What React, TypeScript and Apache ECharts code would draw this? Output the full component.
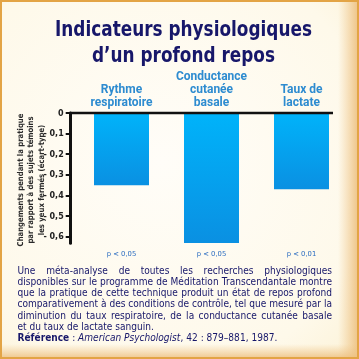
import React, { useEffect, useRef } from 'react';
import * as echarts from 'echarts';

const categories = ['Rythme\nrespiratoire', 'Conductance\ncutanée\nbasale', 'Taux de\nlactate'];
const values = [-0.35, -0.63, -0.37];
const pValues = ['p < 0,05', 'p < 0,05', 'p < 0,01'];
const yTicks = [0, -0.1, -0.2, -0.3, -0.4, -0.5, -0.6];
const titleLines = ['Indicateurs physiologiques', 'd’un profond repos'];
const yNameLines = [
  'Changements pendant la pratique',
  'par rapport à des sujets témoins',
  'les yeux fermés (écart-type)',
];
const paragraphLines = [
  'Une méta-analyse de toutes les recherches physiologiques',
  'disponibles sur le programme de Méditation Transcendantale montre',
  'que la pratique de cette technique produit un état de repos profond',
  'comparativement à des conditions de contrôle, tel que mesuré par la',
  'diminution du taux respiratoire, de la conductance cutanée  basale',
  'et du taux de lactate sanguin.',
];
const referenceParts = ['Référence', ' : ', 'American Psychologist', ', 42 : 879–881, 1987.'];

export default function App() {
  const ref = useRef<HTMLDivElement>(null);
  useEffect(() => {
    const el = ref.current!;
    const chart = echarts.init(el, null, { renderer: 'svg' });
    const canvas = document.createElement('canvas');
    const ctx = canvas.getContext('2d')!;
    const measure = (t: string, font: string) => {
      ctx.font = font;
      return ctx.measureText(t).width;
    };

    const navy = '#17176a';
    const gridTop = 113;
    const gridBottomPx = 243.3;
    const yMin = -0.632;

    // background
    const bg: any[] = [
      {
        id: 'bg', type: 'rect', z: -10, silent: true,
        shape: { x: 0, y: 0, width: 359, height: 359 },
        style: {
          fill: new echarts.graphic.RadialGradient(0.45, 0.45, 0.85, [
            { offset: 0, color: '#fffdf8' },
            { offset: 0.7, color: '#fef9ea' },
            { offset: 1, color: '#fbefcf' },
          ]),
        },
      },
      {
        id: 'bgR', type: 'rect', z: -9, silent: true,
        shape: { x: 338, y: 0, width: 21, height: 359 },
        style: {
          fill: new echarts.graphic.LinearGradient(0, 0, 1, 0, [
            { offset: 0, color: 'rgba(240,200,140,0)' },
            { offset: 1, color: 'rgba(236,190,125,0.95)' },
          ]),
        },
      },
      {
        id: 'bgB', type: 'rect', z: -9, silent: true,
        shape: { x: 0, y: 344, width: 359, height: 15 },
        style: {
          fill: new echarts.graphic.LinearGradient(0, 0, 0, 1, [
            { offset: 0, color: 'rgba(240,200,140,0)' },
            { offset: 1, color: 'rgba(236,190,125,0.9)' },
          ]),
        },
      },
      {
        id: 'border', type: 'rect', z: -8, silent: true,
        shape: { x: 1, y: 1, width: 357, height: 357 },
        style: { fill: 'none', stroke: '#e3a445', lineWidth: 2 },
      },
    ];

    // title
    const titleFont = 'bold 21px "DejaVu Sans"';
    const t1w = measure(titleLines[0], titleFont);
    const sT = 257 / t1w;
    const titleEls = titleLines.map((t, i) => ({
      id: 'title' + i, type: 'text', x: 183.5, y: i === 0 ? 28 : 54, scaleX: sT, silent: true,
      style: {
        text: t, fontFamily: 'DejaVu Sans', fontWeight: 'bold', fontSize: 21,
        fill: navy, align: 'center', verticalAlign: 'middle',
      },
    }));

    // y-axis name
    const ynFont = 'bold 8px "DejaVu Sans"';
    const sY = 133 / measure(yNameLines[0], ynFont);
    const ynX = [20.5, 30.8, 41];
    const ynEls = yNameLines.map((t, i) => ({
      id: 'yn' + i, type: 'text', x: ynX[i], y: 180, rotation: Math.PI / 2, scaleX: sY, silent: true,
      style: {
        text: t, fontFamily: 'DejaVu Sans', fontWeight: 'bold', fontSize: 8,
        fill: '#2a2a2a', align: 'center', verticalAlign: 'middle',
      },
    }));

    // paragraph
    const pFontSize = 10;
    const pFont = `${pFontSize}px "DejaVu Sans"`;
    const left = 17.5;
    const right = 332;
    const target = right - left;
    const spaceW = measure(' ', pFont);
    let sP = 1;
    paragraphLines.slice(0, 5).forEach((l) => {
      const w = measure(l.replace(/\s+/g, ' '), pFont);
      sP = Math.min(sP, target / w);
    });
    const lineYs = [270, 281.3, 292.5, 303.7, 314.9, 326.2, 337.8];
    const paraEls: any[] = [];
    paragraphLines.forEach((l, li) => {
      const words = l.split(/\s+/);
      const justify = li < 5;
      const widths = words.map((w) => measure(w, pFont) * sP);
      const total = widths.reduce((a, b) => a + b, 0);
      const gap = justify ? (target - total) / (words.length - 1) : spaceW * sP;
      let x = left;
      words.forEach((w, wi) => {
        paraEls.push({
          id: `p${li}_${wi}`, type: 'text', x, y: lineYs[li], scaleX: sP, silent: true,
          style: {
            text: w, fontFamily: 'DejaVu Sans', fontSize: pFontSize, fill: navy,
            align: 'left', verticalAlign: 'middle',
          },
        });
        x += widths[wi] + gap;
      });
    });
    paraEls.push({
      id: 'refline', type: 'text', x: left, y: lineYs[6], scaleX: sP, silent: true,
      style: {
        text: `{b|${referenceParts[0]}}${referenceParts[1]}{i|${referenceParts[2]}}${referenceParts[3]}`,
        fontFamily: 'DejaVu Sans', fontSize: pFontSize, fill: navy, align: 'left', verticalAlign: 'middle',
        rich: {
          b: { fontWeight: 'bold', fontFamily: 'DejaVu Sans', fontSize: pFontSize, fill: navy },
          i: { fontStyle: 'italic', fontFamily: 'DejaVu Sans', fontSize: pFontSize, fill: navy },
        },
      },
    });

    const fmt = (v: number) => (v === 0 ? '0' : '- ' + Math.abs(v).toFixed(1).replace('.', ','));

    chart.setOption({
      animation: false,
      backgroundColor: 'transparent',
      grid: { left: 76.5, width: 270, top: gridTop, height: gridBottomPx - gridTop, containLabel: false },
      xAxis: [
        {
          type: 'category', position: 'top', data: categories,
          axisLine: { show: false }, axisTick: { show: false },
          axisLabel: {
            interval: 0, margin: 5, color: '#2d8bd0', fontFamily: 'Roboto', fontWeight: 'bold',
            fontSize: 12, lineHeight: 13,
          },
        },
        {
          type: 'category', position: 'bottom', data: pValues,
          axisLine: { show: false }, axisTick: { show: false },
          axisLabel: { interval: 0, margin: 7, color: '#2a6cc0', fontFamily: 'DejaVu Sans', fontSize: 6.8 },
        },
      ],
      yAxis: {
        type: 'value', min: yMin, max: 0, offset: 5.8,
        axisLine: { show: true, lineStyle: { color: '#111', width: 3 } },
        axisTick: { show: true, customValues: yTicks, length: 5, lineStyle: { color: '#111', width: 2 } },
        axisLabel: {
          customValues: yTicks, formatter: fmt, margin: 7, color: '#222',
          fontFamily: 'DejaVu Sans', fontWeight: 'bold', fontSize: 8,
        },
        splitLine: { show: false },
      },
      series: [
        {
          type: 'bar', data: values, barWidth: 55, xAxisIndex: 0,
          itemStyle: {
            color: new echarts.graphic.LinearGradient(0, 0, 0, 1, [
              { offset: 0, color: '#00b3fa' },
              { offset: 1, color: '#0a90e2' },
            ]),
          },
        },
      ],
      graphic: [...bg, ...titleEls, ...ynEls, ...paraEls],
    });

    const y0 = chart.convertToPixel({ yAxisIndex: 0 }, 0) as number;
    chart.setOption({
      graphic: [
        {
          id: 'zeroLine', type: 'line', silent: true, z: 10,
          shape: { x1: 69.5, y1: y0, x2: 333, y2: y0 },
          style: { stroke: '#111', lineWidth: 2.5 },
        },
      ],
    });

    return () => chart.dispose();
  }, []);
  return <div ref={ref} style={{ position: 'fixed', left: 0, top: 0, width: 359, height: 359 }} />;
}
